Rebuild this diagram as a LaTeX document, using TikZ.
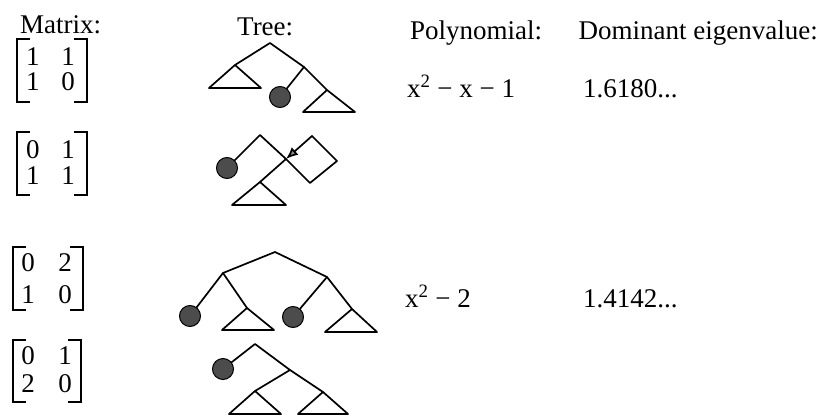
\documentclass[tikz,border=0pt]{standalone}
\usepackage{fontspec}
\setmainfont{Liberation Serif}
\usetikzlibrary{arrows.meta}
\newcommand\mtxbr[4]{%
  \draw[brk] (#1+13,#3) -- (#1,#3) -- (#1,#4) -- (#1+13,#4);
  \draw[brk] (#2-13,#3) -- (#2,#3) -- (#2,#4) -- (#2-13,#4);}
\begin{document}
\begin{tikzpicture}[x=1pt,y=-1pt,
  lbl/.style={inner sep=0pt,anchor=base west,font=\fontsize{27}{32}\selectfont},
  ent/.style={inner sep=0pt,font=\fontsize{27}{32}\selectfont},
  edge/.style={line width=1.7pt,line join=round,line cap=round},
  ball/.style={circle,draw=black,line width=1pt,fill=black!70,minimum size=21pt,inner sep=0pt},
  brk/.style={line width=1.6pt,line join=miter}]
\useasboundingbox (0,0) rectangle (820,415);

% headers
\node[lbl] (hmat) at (20,33) {Matrix:};
\node[lbl] (htree) at (237,35) {Tree:};
\node[lbl] (hpoly) at (410,39) {Polynomial:};
\node[lbl,anchor=base east] (heig) at (818,39) {Dominant eigenvalue:};

% row texts
\node[lbl] (p1) at (407,97) {x\textsuperscript{2} − x − 1};
\node[lbl] (e1) at (583,97) {1.6180...};
\node[lbl] (p3) at (405,307) {x\textsuperscript{2} − 2};
\node[lbl] (e3) at (583,307) {1.4142...};

% matrix 1
\mtxbr{17}{87}{39}{102}
\node[ent] (m1a) at (33,57) {1};
\node[ent] (m1b) at (68,57) {1};
\node[ent] (m1c) at (33,82) {1};
\node[ent] (m1d) at (68,82) {0};
% matrix 2
\mtxbr{17}{87}{132}{195}
\node[ent] (m2a) at (33,150) {0};
\node[ent] (m2b) at (68,150) {1};
\node[ent] (m2c) at (33,176) {1};
\node[ent] (m2d) at (68,176) {1};
% matrix 3
\mtxbr{13}{83}{247}{310}
\node[ent] (m3a) at (28,263) {0};
\node[ent] (m3b) at (65,263) {2};
\node[ent] (m3c) at (28,295) {1};
\node[ent] (m3d) at (65,295) {0};
% matrix 4
\mtxbr{13}{81}{340}{402}
\node[ent] (m4a) at (28,356) {0};
\node[ent] (m4b) at (65,356) {1};
\node[ent] (m4c) at (28,384) {2};
\node[ent] (m4d) at (65,384) {0};

% tree 1
\coordinate (t1r) at (270,43);
\coordinate (t1a) at (235,65);
\coordinate (t1b) at (304,67);
\coordinate (t1c) at (327,90);
\coordinate (t1al) at (209,88);
\coordinate (t1ar) at (261,88);
\coordinate (t1cl) at (303,112);
\coordinate (t1cr) at (355,112);
\node[ball] (t1ball) at (280,97) {};
\draw[edge] (t1a) -- (t1r) -- (t1b) -- (t1c);
\draw[edge] (t1b) -- (t1ball);
\draw[edge] (t1al) -- (t1a) -- (t1ar) -- cycle;
\draw[edge] (t1cl) -- (t1c) -- (t1cr) -- cycle;

% tree 2
\coordinate (t2p) at (260,135);
\coordinate (t2x) at (286,159);
\coordinate (t2y) at (310,183);
\coordinate (t2z) at (337,161);
\coordinate (t2w) at (312,136);
\coordinate (t2t) at (260,182);
\coordinate (t2tl) at (232,205);
\coordinate (t2tr) at (286,205);
\node[ball] (t2ball) at (227,168) {};
\draw[edge] (t2ball) -- (t2p) -- (t2x) -- (t2y) -- (t2z) -- (t2w);
\draw[edge,-{Latex[length=12pt,width=10pt,fill=black!45]}] (t2w) -- (t2x);
\draw[edge] (t2x) -- (t2t);
\draw[edge] (t2tl) -- (t2t) -- (t2tr) -- cycle;

% tree 3
\coordinate (t3r) at (275,252);
\coordinate (t3l) at (223,273);
\coordinate (t3q) at (327,277);
\coordinate (t3la) at (247,308);
\coordinate (t3lal) at (222,330);
\coordinate (t3lar) at (274,330);
\coordinate (t3qa) at (352,309);
\coordinate (t3qal) at (325,332);
\coordinate (t3qar) at (377,332);
\node[ball] (t3b1) at (190,316) {};
\node[ball] (t3b2) at (293,317) {};
\draw[edge] (t3l) -- (t3r) -- (t3q);
\draw[edge] (t3b1) -- (t3l) -- (t3la);
\draw[edge] (t3b2) -- (t3q) -- (t3qa);
\draw[edge] (t3lal) -- (t3la) -- (t3lar) -- cycle;
\draw[edge] (t3qal) -- (t3qa) -- (t3qar) -- cycle;

% tree 4
\coordinate (t4r) at (255,344);
\coordinate (t4q) at (290,370);
\coordinate (t4a) at (255,391);
\coordinate (t4b) at (323,392);
\coordinate (t4al) at (229,414);
\coordinate (t4ar) at (281,414);
\coordinate (t4bl) at (298,414);
\coordinate (t4br) at (348,414);
\node[ball] (t4ball) at (223,369) {};
\draw[edge] (t4ball) -- (t4r) -- (t4q);
\draw[edge] (t4a) -- (t4q) -- (t4b);
\draw[edge] (t4al) -- (t4a) -- (t4ar) -- cycle;
\draw[edge] (t4bl) -- (t4b) -- (t4br) -- cycle;
\end{tikzpicture}
\end{document}
